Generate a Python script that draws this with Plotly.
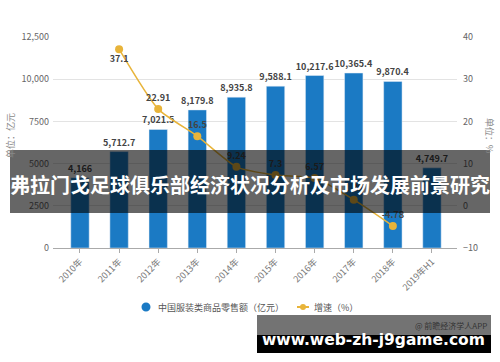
import plotly.graph_objects as go

years = ["2010年", "2011年", "2012年", "2013年", "2014年", "2015年", "2016年", "2017年", "2018年", "2019年H1"]
retail = [4166, 5712.7, 7021.5, 8179.8, 8935.8, 9588.1, 10217.6, 10365.4, 9870.4, 4749.7]
retail_labels = ["4,166", "5,712.7", "7,021.5", "8,179.8", "8,935.8", "9,588.1", "10,217.6", "10,365.4", "9,870.4", "4,749.7"]
growth = [None, 37.1, 22.91, 16.5, 9.24, 7.3, 6.57, 1.45, -4.78, None]
growth_labels = ["", "37.1", "22.91", "16.5", "9.24", "7.3", "6.57", "1.45", "-4.78", ""]
left_ticks = [0, 2500, 5000, 7500, 10000, 12500]
left_tick_text = ["0", "2500", "5000", "7500", "10,000", "12,500"]
right_ticks = [-10, 0, 10, 20, 30, 40]
legend_names = ["中国服装类商品零售额（亿元）", "增速（%）"]

FONT = "Noto Sans CJK SC, Noto Sans, sans-serif"
W, H = 500, 362
L, R, T, B = 53, 43, 37, 114
PW, PH = W - L - R, H - T - B

def px(x):
    return (x - L) / PW

def py(y):
    return (H - B - y) / PH

BLUE = "#1b7ac4"
GOLD = "#e8b43a"

fig = go.Figure()
fig.add_trace(go.Bar(
    x=years, y=retail, width=0.47, marker_color=BLUE, showlegend=False,
    text=retail_labels, textposition="outside", cliponaxis=False, constraintext="none",
    textfont=dict(size=9, color="#444", family=FONT, weight="bold"),
))
fig.add_trace(go.Scatter(
    x=years, y=growth, yaxis="y2", mode="lines+markers+text", showlegend=False,
    line=dict(color=GOLD, width=1.5, shape="spline", smoothing=0.6),
    marker=dict(size=8, color=GOLD),
    text=growth_labels,
    textposition=["top center", "bottom center"] + ["top center"] * 8,
    textfont=dict(size=9, color="#444", family=FONT, weight="bold"),
    cliponaxis=False,
))

fig.update_layout(
    width=W, height=H, margin=dict(l=L, r=R, t=T, b=B),
    paper_bgcolor="white", plot_bgcolor="white",
    font=dict(family=FONT, size=9, color="#666"),
    showlegend=False,
    xaxis=dict(range=[-0.69, 9.64], showgrid=False, showline=True, linecolor="#aaa",
               ticks="outside", ticklen=4, tickcolor="#aaa", tickangle=-45,
               tickfont=dict(size=9, color="#777")),
    yaxis=dict(range=[0, 12500], tickvals=left_ticks, ticktext=left_tick_text,
               gridcolor="#e3e3e3", zeroline=False, showline=False,
               tickfont=dict(size=9, color="#666"), ticklabelstandoff=3),
    yaxis2=dict(range=[-10, 40], overlaying="y", side="right", tickvals=right_ticks,
                showgrid=False, zeroline=False, showline=False,
                tickfont=dict(size=9, color="#666"), ticklabelstandoff=5),
)

annotations = [
    dict(text="单位：亿元", x=px(10), y=py(136), textangle=-90, font=dict(size=9, color="#888")),
    dict(text="单位：%", x=px(490), y=py(135), textangle=90, font=dict(size=9, color="#888")),
    dict(text=legend_names[0], x=px(156), y=py(307), xanchor="left", font=dict(size=9, color="#555")),
    dict(text=legend_names[1], x=px(312), y=py(307), xanchor="left", font=dict(size=9, color="#555")),
    dict(text="<b>弗拉门戈足球俱乐部经济状况分析及市场发展前景研究</b>", x=px(250), y=py(184),
         font=dict(size=20, color="white", family=FONT)),
    dict(text="@ 前瞻经济学人APP", x=px(489), y=py(325), xanchor="right",
         font=dict(size=8, color="#333")),
    dict(text="<b>www.web-zh-j9game.com</b>", x=px(373), y=py(340),
         font=dict(size=15.5, color="white", family="DejaVu Sans, sans-serif")),
]
for a in annotations:
    a.update(xref="paper", yref="paper", showarrow=False)
    a.setdefault("xanchor", "center")
    a.setdefault("yanchor", "middle")
fig.update_layout(annotations=annotations)

shapes = [
    # legend symbols
    dict(type="circle", x0=px(141.5), x1=px(150.5), y0=py(302.5), y1=py(311.5),
         fillcolor=BLUE, line_width=0, layer="above"),
    dict(type="line", x0=px(297), x1=px(309), y0=py(307), y1=py(307),
         line=dict(color=GOLD, width=2), layer="above"),
    dict(type="circle", x0=px(300), x1=px(306), y0=py(304), y1=py(310),
         fillcolor=GOLD, line_width=0, layer="above"),
    # overlays
    dict(type="rect", x0=px(10), x1=px(490), y0=py(150), y1=py(213),
         fillcolor="rgba(0,0,0,0.6)", line_width=0, layer="above"),
    dict(type="rect", x0=px(257), x1=px(491), y0=py(315), y1=py(335),
         fillcolor="rgba(0,0,0,0.55)", line_width=0, layer="above"),
    dict(type="rect", x0=px(257), x1=px(491), y0=py(335), y1=py(353),
         fillcolor="black", line_width=0, layer="above"),
]
for s in shapes:
    s.update(xref="paper", yref="paper")
fig.update_layout(shapes=shapes)

fig.write_html("out.html", config={"displayModeBar": False},
               post_script="document.body.style.margin='0';document.body.style.overflow='hidden';")
